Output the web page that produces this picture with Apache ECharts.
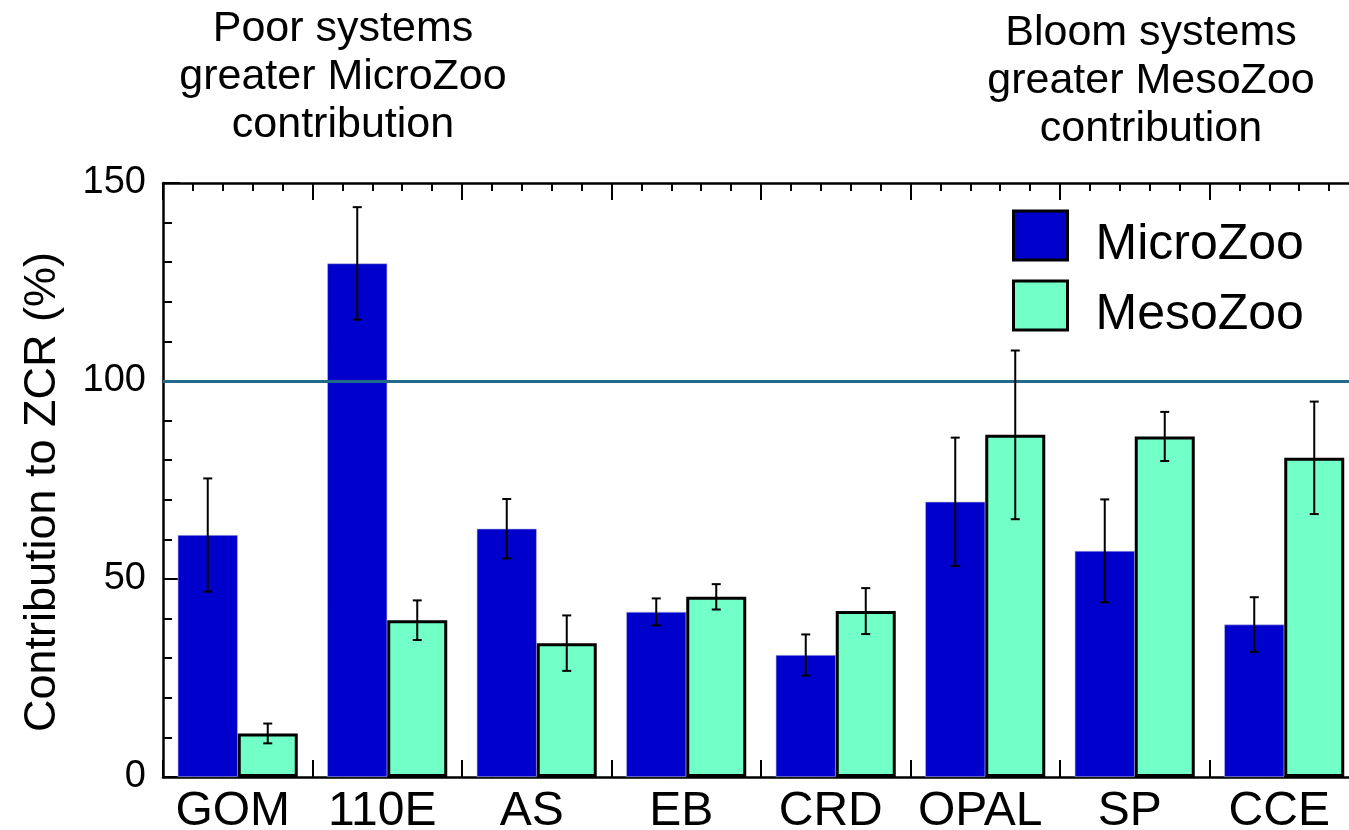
<!DOCTYPE html>
<html>
<head>
<meta charset="utf-8">
<script src="https://cdn.jsdelivr.net/npm/echarts@6/dist/echarts.min.js"></script>
<style>
html,body{margin:0;padding:0;background:#fff;overflow:hidden;width:1349px;height:830px;}
#chart{width:1359px;height:830px;}
</style>
</head>
<body>
<div id="chart"></div>
<script>
var categories = ['GOM', '110E', 'AS', 'EB', 'CRD', 'OPAL', 'SP', 'CCE'];
var microZoo = [61.1, 129.7, 62.7, 41.7, 30.8, 69.5, 57.1, 38.5];
var microErr = [14.3, 14.2, 7.5, 3.4, 5.2, 16.2, 13.0, 6.9];
var mesoZoo = [11.0, 39.6, 33.8, 45.5, 41.9, 86.4, 86.0, 80.6];
var mesoErr = [2.5, 5.0, 7.0, 3.2, 5.8, 21.3, 6.2, 14.2];
var yTicks = [0, 50, 100, 150];
var refLine = 100;

var FONT = "'Liberation Sans', Arial, Helvetica, sans-serif";
var BAR_W = 60;
var MICRO_COLOR = '#0000cd';
var MESO_COLOR = '#72ffc8';

function errData(vals, errs) {
  return vals.map(function (v, i) { return [i, v - errs[i], v + errs[i]]; });
}
function errRender(side) {
  return function (params, api) {
    var idx = api.value(0);
    var lo = api.coord([idx, api.value(1)]);
    var hi = api.coord([idx, api.value(2)]);
    var x = lo[0] + side * BAR_W / 2;
    var cap = 4.5;
    var st = { stroke: '#000', lineWidth: 2 };
    return {
      type: 'group',
      children: [
        { type: 'line', shape: { x1: x, y1: lo[1], x2: x, y2: hi[1] }, style: st },
        { type: 'line', shape: { x1: x - cap, y1: lo[1], x2: x + cap, y2: lo[1] }, style: st },
        { type: 'line', shape: { x1: x - cap, y1: hi[1], x2: x + cap, y2: hi[1] }, style: st }
      ]
    };
  };
}

var tickAxisCommon = {
  type: 'value', min: 0, max: categories.length, interval: 1,
  axisLine: { show: true, lineStyle: { color: '#000', width: 2.5 } },
  axisTick: { show: true, inside: true, length: 17, lineStyle: { color: '#000', width: 2 } },
  minorTick: { show: true, splitNumber: 5, length: 8, lineStyle: { color: '#000', width: 2 } },
  axisLabel: { show: false },
  splitLine: { show: false }
};

var chart = echarts.init(document.getElementById('chart'));
chart.setOption({
  animation: false,
  backgroundColor: '#fff',
  grid: { left: 163, right: 0, top: 183, bottom: 53, containLabel: false, outerBoundsMode: 'none' },
  legend: {
    data: ['MicroZoo', 'MesoZoo'],
    orient: 'vertical',
    left: 1012, top: 201,
    padding: 0,
    icon: 'rect',
    itemWidth: 54, itemHeight: 49, itemGap: 1,
    itemStyle: { borderColor: '#000', borderWidth: 3 },
    formatter: function (name) { return '{t|' + name + '}'; },
    textStyle: {
      fontFamily: FONT, fontSize: 50, color: '#000',
      rich: { t: { fontFamily: FONT, fontSize: 50, color: '#000', padding: [19, 0, 0, 23], lineHeight: 48 } }
    },
    selectedMode: false
  },
  graphic: [
    { type: 'text', x: 343, y: 5, style: { text: 'Poor systems\ngreater MicroZoo\ncontribution', align: 'center', verticalAlign: 'top', fontFamily: FONT, fontSize: 43, lineHeight: 48, fill: '#000' } },
    { type: 'text', x: 1151, y: 9, style: { text: 'Bloom systems\ngreater MesoZoo\ncontribution', align: 'center', verticalAlign: 'top', fontFamily: FONT, fontSize: 43, lineHeight: 48, fill: '#000' } }
  ],
  xAxis: [
    {
      type: 'category', data: categories, position: 'bottom',
      axisLine: { show: false }, axisTick: { show: false },
      axisLabel: { interval: 0, fontFamily: FONT, fontSize: 48, color: '#000', margin: 11, padding: [0, 10, 0, 0] }
    },
    Object.assign({ position: 'bottom' }, tickAxisCommon),
    Object.assign({ position: 'top' }, tickAxisCommon)
  ],
  yAxis: [{
    type: 'value', min: 0, max: 150, interval: 50,
    name: 'Contribution to ZCR (%)', nameLocation: 'middle', nameGap: 98,
    nameTextStyle: { fontFamily: FONT, fontSize: 45, color: '#000', padding: [0, 24, 0, 0] },
    axisLine: { show: true, lineStyle: { color: '#000', width: 2.5 } },
    axisTick: { show: true, inside: true, length: 17, lineStyle: { color: '#000', width: 2 } },
    minorTick: { show: true, splitNumber: 5, length: 9, lineStyle: { color: '#000', width: 2 } },
    axisLabel: {
      fontFamily: FONT, fontSize: 38, color: '#000', margin: 17,
      formatter: function (v) { return yTicks.indexOf(v) >= 0 ? String(v) : ''; }
    },
    splitLine: { show: false }
  }],
  series: [
    {
      name: 'MicroZoo', type: 'bar', xAxisIndex: 0, yAxisIndex: 0,
      data: microZoo, barWidth: BAR_W, barGap: '0%',
      itemStyle: { color: MICRO_COLOR, borderColor: '#b8b8d8', borderWidth: 0.6 },
      markLine: {
        silent: true, symbol: ['none', 'none'], label: { show: false },
        lineStyle: { color: '#23698b', width: 3, type: 'solid' },
        data: [{ yAxis: refLine }]
      },
      z: 2
    },
    {
      name: 'MesoZoo', type: 'bar', xAxisIndex: 0, yAxisIndex: 0,
      data: mesoZoo, barWidth: BAR_W, barGap: '0%',
      itemStyle: { color: MESO_COLOR, borderColor: '#000', borderWidth: 3 },
      z: 2
    },
    {
      name: 'microErr', type: 'custom', xAxisIndex: 0, yAxisIndex: 0,
      data: errData(microZoo, microErr), renderItem: errRender(-1), z: 5, silent: true
    },
    {
      name: 'mesoErr', type: 'custom', xAxisIndex: 0, yAxisIndex: 0,
      data: errData(mesoZoo, mesoErr), renderItem: errRender(1), z: 5, silent: true
    }
  ]
});
</script>
</body>
</html>
